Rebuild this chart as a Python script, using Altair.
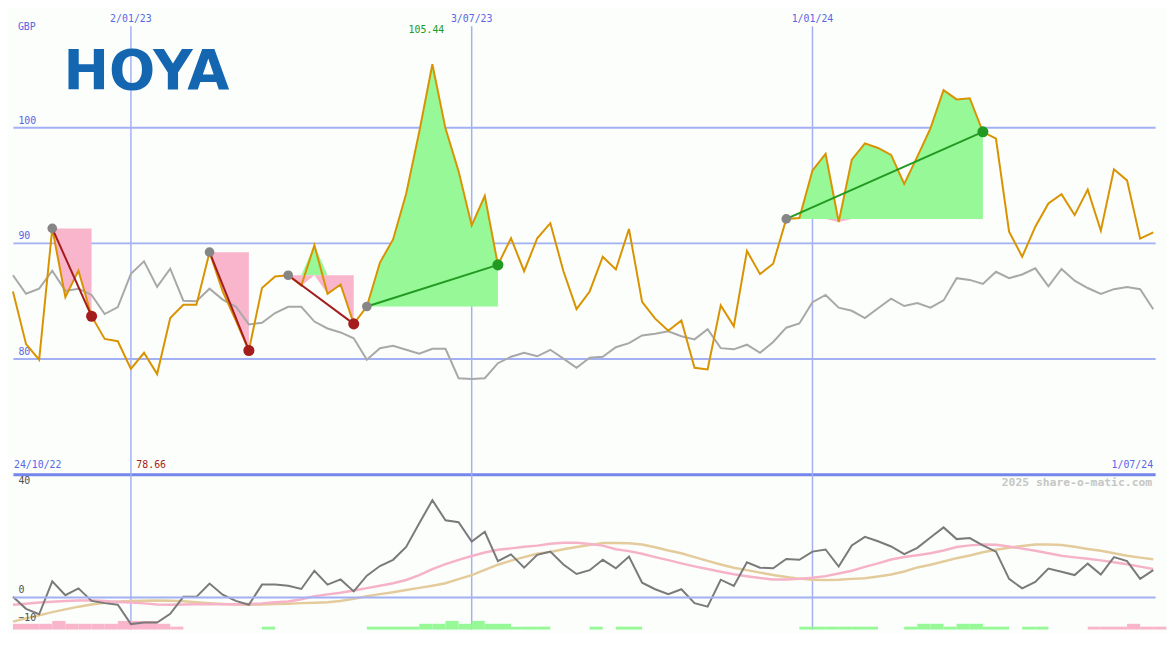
import altair as alt
import pandas as pd

# ---------------- data ----------------
price = [
    85.8, 81.25, 79.9, 91.25, 85.3, 87.6, 83.66, 81.7, 81.5, 79.1,
    80.5, 78.66, 83.5, 84.65, 84.65, 89.2, 85.8, 83.3, 80.7, 86.1,
    87.1, 87.2, 86.3, 89.8, 85.6, 86.4, 83.0, 84.5, 88.3, 90.3,
    94.25, 99.6, 105.44, 99.9, 96.2, 91.5, 94.07, 88.1, 90.4, 87.55,
    90.4, 91.7, 87.55, 84.27, 85.8, 88.8, 87.7, 91.2, 84.9, 83.45,
    82.4, 83.3, 79.2, 79.06, 84.6, 82.8, 89.3, 87.3, 88.2, 92.07,
    92.15, 96.26, 97.7, 91.8, 97.2, 98.6, 98.2, 97.6, 95.1, 97.45,
    99.9, 103.2, 102.4, 102.5, 99.6, 99.0, 90.97, 88.8, 91.4, 93.4,
    94.2, 92.4, 94.6, 91.05, 96.36, 95.4, 90.37, 90.9,
]
relative = [
    87.2, 85.6, 86.04, 87.6, 85.85, 86.04, 85.5, 83.85, 84.45, 87.33,
    88.4, 86.2, 87.77, 85.0, 84.95, 86.04, 85.1, 84.5, 82.95, 83.1,
    83.94, 84.48, 84.48, 83.2, 82.6, 82.26, 81.75, 79.9, 80.9, 81.1,
    80.76, 80.43, 80.84, 80.84, 78.3, 78.24, 78.3, 79.6, 80.16, 80.5,
    80.2, 80.76, 80.0, 79.2, 80.07, 80.16, 80.98, 81.33, 82.0, 82.15,
    82.35, 81.93, 81.66, 82.54, 80.9, 80.8, 81.2, 80.5, 81.44, 82.67,
    83.03, 84.87, 85.5, 84.4, 84.13, 83.5, 84.35, 85.17, 84.54, 84.8,
    84.4, 85.03, 86.95, 86.8, 86.45, 87.5, 86.95, 87.27, 87.8, 86.24,
    87.74, 86.73, 86.1, 85.58, 86.0, 86.18, 86.0, 84.27,
]
momentum = [
    0, -4.4, -6.4, 5.7, 0.6, 3.1, -1.5, -2.3, -2.9, -10.0,
    -9.4, -9.4, -6.2, 0, 0, 4.9, 0.8, -1.5, -2.9, 4.5,
    4.5, 4.1, 2.9, 9.6, 4.5, 6.4, 2.0, 7.8, 11.3, 13.6,
    18.3, 27.0, 35.5, 28.1, 27.4, 20.3, 23.9, 13.1, 15.6, 10.7,
    15.4, 16.6, 11.9, 8.4, 9.8, 13.6, 10.5, 14.8, 5.2, 2.8,
    1.0, 2.8, -2.3, -3.6, 6.3, 4.0, 12.7, 10.7, 10.5, 13.9,
    13.6, 16.6, 17.4, 11.1, 18.9, 22.0, 20.4, 18.5, 15.7, 18.0,
    21.8, 25.5, 21.2, 21.6, 18.9, 16.6, 6.6, 3.1, 5.5, 10.4,
    9.2, 8.0, 12.2, 8.2, 14.6, 13.1, 6.6, 9.8,
]
avg_fast = [
    -2.9, -2.5, -2.1, -1.8, -1.5, -1.3, -1.3, -1.5, -1.9, -2.1,
    -2.4, -2.8, -2.9, -2.8, -2.7, -2.7, -2.7, -2.7, -2.6, -2.4,
    -2.0, -1.7, -0.9, 0.2, 0.9, 1.5, 2.3, 3.2, 4.1, 5.0,
    6.2, 8.0, 10.2, 12.0, 13.6, 15.0, 16.3, 17.3, 17.8, 18.4,
    18.8, 19.5, 19.9, 19.9, 19.4, 18.8, 17.5, 16.8, 15.8, 14.6,
    13.5, 12.3, 11.2, 10.2, 9.2, 8.3, 7.6, 6.9, 6.4, 6.4,
    6.6, 7.0, 7.6, 8.6, 9.6, 11.0, 12.3, 13.7, 14.6, 15.3,
    16.0, 17.0, 18.3, 18.9, 19.2, 19.1, 18.5, 17.7, 16.9, 16.0,
    15.1, 14.5, 14.0, 13.4, 12.7, 12.0, 11.1, 10.2,
]
avg_slow = [
    -9.1, -7.9, -6.8, -5.6, -4.6, -3.6, -2.8, -2.2, -1.7, -1.5,
    -1.4, -1.3, -1.4, -1.6, -2.0, -2.3, -2.6, -2.8, -2.9, -2.8,
    -2.6, -2.5, -2.3, -2.2, -2.0, -1.5, -0.7, 0.2, 1.0, 1.7,
    2.5, 3.3, 4.1, 5.0, 6.5, 8.0, 9.9, 11.8, 13.3, 14.6,
    15.8, 16.5, 17.5, 18.3, 19.0, 19.8, 19.8, 19.7, 19.2, 18.2,
    17.0, 16.0, 14.6, 13.2, 11.9, 10.7, 9.8, 8.9, 8.0, 7.3,
    6.7, 6.3, 6.2, 6.3, 6.6, 6.8, 7.5, 8.2, 9.3, 10.8,
    11.8, 13.0, 14.2, 15.2, 16.4, 17.3, 18.0, 18.7, 19.2, 19.2,
    19.0, 18.4, 17.6, 16.9, 16.0, 15.1, 14.4, 13.8,
]
hist = [
    -2, -2, -2, -3, -2, -2, -2, -2, -3, -3,
    -3, -2, -1, 0, 0, 0, 0, 0, 0, 1,
    0, 0, 0, 0, 0, 0, 0, 1, 1, 1,
    1, 2, 2, 3, 2, 3, 2, 2, 1, 1,
    1, 0, 0, 0, 1, 0, 1, 1, 0, 0,
    0, 0, 0, 0, 0, 0, 0, 0, 0, 0,
    1, 1, 1, 1, 1, 1, 0, 0, 1, 2,
    2, 1, 2, 2, 1, 1, 0, 1, 1, 0,
    0, 0, -1, -1, -1, -2, -1, -1,
]
first_date = "2022-10-31"
grid_dates = ["2023-01-02", "2023-07-03", "2024-01-01"]
grid_labels = ["2/01/23", "3/07/23", "1/01/24"]
price_ticks = [80, 90, 100]
ind_ticks = [-10, 0, 40]
entry_dates = ["2022-11-21", "2023-02-13", "2023-03-27", "2023-05-08", "2023-12-18"]
exit_dates = ["2022-12-12", "2023-03-06", "2023-05-01", "2023-07-17", "2024-04-01"]
range_labels = ["24/10/22", "1/07/24"]
currency = ["GBP"]
company = ["HOYA"]
watermark = ["2025 share-o-matic.com"]

# ---------------- styling ----------------
W, H1, H2 = 1155, 468, 157
BG = "#fbfefb"
GRID = "#a4b0f4"
SEP = "#7486ec"
BLUE_TXT = "#5a66e6"
ORANGE = "#da9300"
GRAY = "#a8a8a8"
PINK_FILL = "#f9b5cb"
GREEN_FILL = "#96f896"
RED = "#a41c1c"
GREEN = "#229a22"
MONO = "DejaVu Sans Mono"

# ---------------- tables ----------------
dates = pd.date_range(first_date, periods=len(price), freq="7D")
date_str = [d.strftime("%Y-%m-%d") for d in dates]
date_end = [(d + pd.Timedelta(days=7)).strftime("%Y-%m-%d") for d in dates]

main = pd.DataFrame({
    "date": date_str, "date_end": date_end, "price": price, "relative": relative,
    "momentum": momentum, "fast": avg_fast, "slow": avg_slow, "hist": hist,
})
main["level"] = [abs(h) for h in hist]

area_rows, seg_rows = [], []
for t, (ed, xd) in enumerate(zip(entry_dates, exit_dates)):
    i0, i1 = date_str.index(ed), date_str.index(xd)
    ep, xp = price[i0], price[i1]
    outcome = "win" if xp > ep else "loss"
    for i in range(i0, i1 + 1):
        area_rows.append({"trade": t, "date": date_str[i], "price": price[i], "entry": ep})
    seg_rows.append({"trade": t, "date": ed, "price": ep, "outcome": outcome, "role": "entry"})
    seg_rows.append({"trade": t, "date": xd, "price": xp, "outcome": outcome, "role": "exit"})
areas = pd.DataFrame(area_rows)
segs = pd.DataFrame(seg_rows)

imax = price.index(max(price))
imin = price.index(min(price))
max_df = pd.DataFrame({"date": [date_str[imax]], "label": [f"{max(price):.2f}"]})
min_df = pd.DataFrame({"date": [date_str[imin]], "label": [f"{min(price):.2f}"]})
grid_df = pd.DataFrame({"date": grid_dates, "label": grid_labels})

XS = alt.Scale(type="utc", domain=[alt.DateTime(year=2022, month=10, date=31, utc=True),
                                   alt.DateTime(year=2024, month=7, date=2, utc=True)])


def X():
    return alt.X("date:T", scale=XS, axis=None)


YS_TOP = alt.Scale(domain=[70, 110], nice=False, zero=False)


def top_axis():
    return alt.Axis(
        values=[70] + price_ticks, title=None, domain=False, ticks=False, tickSize=0,
        labelAlign="left", labelBaseline="bottom", labelPadding=-5, labelOffset=-2,
        labelColor=BLUE_TXT, labelFont=MONO, labelFontSize=10,
        labelExpr="datum.value == 70 ? '' : datum.label",
        grid=True,
        gridColor={"condition": {"test": "datum.value === 70", "value": SEP}, "value": GRID},
        gridWidth={"condition": {"test": "datum.value === 70", "value": 3}, "value": 2},
    )


def YT(field):
    return alt.Y(field, type="quantitative", scale=YS_TOP, axis=top_axis())


# ---------------- top panel ----------------
vgrid_top = alt.Chart(grid_df).mark_rule(color=GRID, strokeWidth=1.5).encode(
    x=X(), y=alt.value(15), y2=alt.value(H1))
date_text = alt.Chart(grid_df).mark_text(font=MONO, fontSize=10, color=BLUE_TXT, baseline="middle").encode(
    x=X(), y=alt.value(8), text="label:N")

area_base = alt.Chart(areas).transform_calculate(
    hi="max(datum.price, datum.entry)", lo="min(datum.price, datum.entry)")
green_area = area_base.mark_area(color=GREEN_FILL, opacity=1, interpolate="linear").encode(
    x=X(), y=YT("hi"), y2="entry:Q", detail="trade:N")
pink_area = area_base.mark_area(color=PINK_FILL, opacity=1, interpolate="linear").encode(
    x=X(), y=YT("lo"), y2="entry:Q", detail="trade:N")

rel_line = alt.Chart(main).mark_line(color=GRAY, strokeWidth=2).encode(x=X(), y=YT("relative"))
price_line = alt.Chart(main).mark_line(color=ORANGE, strokeWidth=2).encode(x=X(), y=YT("price"))

OUT = alt.Scale(domain=["loss", "win"], range=[RED, GREEN])
trade_lines = alt.Chart(segs).mark_line(strokeWidth=2).encode(
    x=X(), y=YT("price"), detail="trade:N", color=alt.Color("outcome:N", scale=OUT, legend=None))
entry_pts = alt.Chart(segs).transform_filter("datum.role == 'entry'").mark_circle(
    size=95, color="#868686", opacity=1).encode(x=X(), y=YT("price"))
exit_pts = alt.Chart(segs).transform_filter("datum.role == 'exit'").mark_circle(
    size=125, opacity=1).encode(x=X(), y=YT("price"), color=alt.Color("outcome:N", scale=OUT, legend=None))

max_text = alt.Chart(max_df).mark_text(font=MONO, fontSize=10, color=GREEN, baseline="middle", dx=-6).encode(
    x=X(), y=alt.value(19), text="label:N")
min_text = alt.Chart(min_df).mark_text(font=MONO, fontSize=10, color=RED, baseline="bottom", dx=-6).encode(
    x=X(), y=alt.value(H1 - 4), text="label:N")
gbp_text = alt.Chart(pd.DataFrame({"t": currency})).mark_text(
    font=MONO, fontSize=10, color=BLUE_TXT, align="left", baseline="middle").encode(
    x=alt.value(5), y=alt.value(16), text="t:N")
start_text = alt.Chart(pd.DataFrame({"t": [range_labels[0]]})).mark_text(
    font=MONO, fontSize=10, color=BLUE_TXT, align="left", baseline="bottom").encode(
    x=alt.value(1), y=alt.value(H1 - 4), text="t:N")
end_text = alt.Chart(pd.DataFrame({"t": [range_labels[1]]})).mark_text(
    font=MONO, fontSize=10, color=BLUE_TXT, align="right", baseline="bottom").encode(
    x=alt.value(W - 2), y=alt.value(H1 - 4), text="t:N")
logo = alt.Chart(pd.DataFrame({"t": company})).mark_text(
    font="DejaVu Sans", fontWeight="bold", fontSize=55, color="#1466b1",
    align="left", baseline="middle").encode(x=alt.value(51), y=alt.value(61), text="t:N")

top = alt.layer(
    vgrid_top, date_text, green_area, pink_area, rel_line, price_line,
    trade_lines, entry_pts, exit_pts, max_text, min_text, gbp_text, start_text, end_text, logo,
).properties(width=W, height=H1)

# ---------------- bottom panel ----------------
YS_BOT = alt.Scale(domain=[-12, 45], nice=False, zero=False)
YAX_BOT = alt.Axis(
    values=ind_ticks, title=None, domain=False, ticks=False, tickSize=0,
    labelAlign="left", labelBaseline="bottom", labelPadding=-5, labelOffset=-2,
    labelColor="#505050", labelFont=MONO, labelFontSize=10,
    grid=True, gridColor=GRID, gridWidth=2, zindex=1,
    gridOpacity={"condition": {"test": "datum.value === 0", "value": 1}, "value": 0},
)


def YB(field, axis=False):
    return alt.Y(field, type="quantitative", scale=YS_BOT, axis=YAX_BOT if axis else None)


HS = alt.Scale(domain=[0, 54], nice=False, zero=True)
vgrid_bot = alt.Chart(grid_df).mark_rule(color=GRID, strokeWidth=1.5).encode(x=X())
bars_down = alt.Chart(main).transform_filter("datum.hist < 0").mark_rect(
    strokeWidth=0, opacity=1, color=PINK_FILL).encode(
    x=X(), x2="date_end:T", y=alt.Y("level:Q", scale=HS, axis=None), y2=alt.datum(0))
bars_up = alt.Chart(main).transform_filter("datum.hist > 0").mark_rect(
    strokeWidth=0, opacity=1, color=GREEN_FILL).encode(
    x=X(), x2="date_end:T", y=alt.Y("level:Q", scale=HS, axis=None), y2=alt.datum(0))
mom_line = alt.Chart(main).mark_line(color="#7a7a7a", strokeWidth=2).encode(x=X(), y=YB("momentum", axis=True))
fast_line = alt.Chart(main).mark_line(color="#f6b2c8", strokeWidth=2.5).encode(x=X(), y=YB("fast"))
slow_line = alt.Chart(main).mark_line(color="#e4cb9c", strokeWidth=2.5).encode(x=X(), y=YB("slow"))
wm = alt.Chart(pd.DataFrame({"t": watermark})).mark_text(
    font=MONO, fontSize=11.5, fontWeight="bold", color="#c6c6c6", align="right", baseline="middle").encode(
    x=alt.value(W - 3), y=alt.value(9), text="t:N")

bottom = alt.layer(
    vgrid_bot, bars_down, bars_up, slow_line, fast_line, mom_line, wm,
).resolve_scale(y="independent").properties(width=W, height=H2)

chart = alt.vconcat(top, bottom, spacing=0, bounds="flush").properties(
    padding=0, background=BG
).configure_view(stroke=None)

chart.save("out.html", embed_options={"renderer": "svg", "actions": False})
